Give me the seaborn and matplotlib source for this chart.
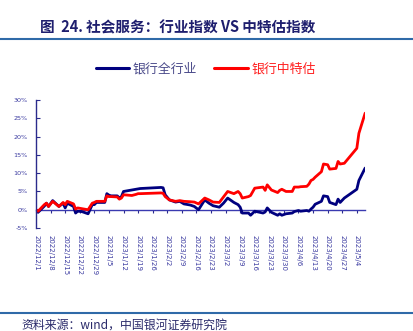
import matplotlib
matplotlib.use("Agg")
import matplotlib.pyplot as plt
import seaborn as sns
import pandas as pd
from matplotlib.lines import Line2D

dates = ["2022-12-01","2022-12-02","2022-12-05","2022-12-06","2022-12-07","2022-12-09",
         "2022-12-12","2022-12-14","2022-12-15","2022-12-16","2022-12-19","2022-12-20",
         "2022-12-21","2022-12-23","2022-12-26","2022-12-28","2022-12-29","2022-12-30",
         "2023-01-03","2023-01-04","2023-01-05","2023-01-06","2023-01-09","2023-01-10",
         "2023-01-11","2023-01-12","2023-01-16","2023-01-18","2023-01-19","2023-01-20",
         "2023-01-30","2023-01-31","2023-02-01","2023-02-03","2023-02-06","2023-02-08",
         "2023-02-10","2023-02-13","2023-02-15","2023-02-17","2023-02-20","2023-02-22",
         "2023-02-24","2023-02-27","2023-03-01","2023-03-03","2023-03-06","2023-03-08",
         "2023-03-09","2023-03-10","2023-03-13","2023-03-14","2023-03-16","2023-03-20",
         "2023-03-21","2023-03-22","2023-03-24","2023-03-27","2023-03-28","2023-03-29",
         "2023-03-31","2023-04-03","2023-04-04","2023-04-06","2023-04-07","2023-04-10",
         "2023-04-11","2023-04-12","2023-04-13","2023-04-14","2023-04-17","2023-04-18",
         "2023-04-20","2023-04-21","2023-04-24","2023-04-25","2023-04-26","2023-04-28",
         "2023-05-04","2023-05-05","2023-05-08"]

bank_all = [0.0,-0.7,1.0,1.8,0.9,2.5,
            0.9,1.8,0.5,1.8,0.9,-0.9,
            -0.4,-0.5,-1.1,1.4,1.4,2.0,
            2.0,4.4,4.0,3.8,3.8,3.2,
            3.6,5.0,5.4,5.6,5.7,5.8,
            6.1,6.0,4.1,2.7,2.1,2.3,
            1.6,1.3,0.9,0.0,2.7,1.8,
            1.1,0.7,1.8,3.2,2.0,1.4,
            0.7,-0.9,-0.9,-1.5,-0.4,-0.9,
            -0.6,0.5,-0.7,-1.5,-1.1,-1.5,
            -1.1,-0.9,-0.5,-0.2,-0.4,-0.2,
            -0.4,0.2,0.7,1.5,2.3,3.8,
            3.6,2.0,1.4,2.9,2.0,3.2,
            5.6,8.0,11.4]

bank_spec = [0.0,-0.4,1.4,1.8,0.9,2.3,
             0.9,2.0,1.4,2.3,1.6,0.2,
             0.5,0.3,0.0,1.8,2.0,2.3,
             2.3,3.8,3.6,3.6,3.5,2.9,
             3.2,4.1,3.9,4.2,4.4,4.4,
             4.6,4.5,3.6,2.7,2.3,2.5,
             2.3,2.2,2.1,1.6,3.2,2.7,
             2.1,2.0,3.5,5.0,4.4,5.0,
             4.4,3.2,3.6,3.9,5.9,6.2,
             5.3,6.8,5.4,4.7,5.3,5.6,
             5.0,5.0,6.2,6.2,6.3,6.4,
             7.0,8.0,8.3,8.9,10.4,12.5,
             12.3,11.1,11.3,13.2,12.5,12.7,
             16.8,20.9,26.4]

series_names = ["银行全行业", "银行中特估"]
colors = ["#00007F", "#FF0000"]

tick_dates = ["2022-12-01","2022-12-08","2022-12-15","2022-12-22","2022-12-29",
              "2023-01-05","2023-01-12","2023-01-19","2023-01-26","2023-02-02",
              "2023-02-09","2023-02-16","2023-02-23","2023-03-02","2023-03-09",
              "2023-03-16","2023-03-23","2023-03-30","2023-04-06","2023-04-13",
              "2023-04-20","2023-04-27","2023-05-04"]
tick_labels = ["2022/12/1","2022/12/8","2022/12/15","2022/12/22","2022/12/29",
               "2023/1/5","2023/1/12","2023/1/19","2023/1/26","2023/2/2",
               "2023/2/9","2023/2/16","2023/2/23","2023/3/2","2023/3/9",
               "2023/3/16","2023/3/23","2023/3/30","2023/4/6","2023/4/13",
               "2023/4/20","2023/4/27","2023/5/4"]
y_ticks = [-5, 0, 5, 10, 15, 20, 25, 30]

sns.set_theme(style="white")
plt.rcParams["font.family"] = ["Noto Sans CJK SC", "DejaVu Sans"]
plt.rcParams["axes.unicode_minus"] = False

df = pd.DataFrame({
    "date": pd.to_datetime(dates * 2),
    "value": bank_all + bank_spec,
    "series": [series_names[0]] * len(dates) + [series_names[1]] * len(dates),
})

fig = plt.figure(figsize=(4.14, 3.31), dpi=100)
ax = fig.add_axes([0.087, 0.311, 0.795, 0.387])

sns.lineplot(data=df, x="date", y="value", hue="series", palette=colors,
             hue_order=series_names, linewidth=2.0, ax=ax, legend=False)

axis_color = "#2B2B8C"
label_color = "#3A3AA0"

ax.set_xlim(pd.Timestamp(dates[0]), pd.Timestamp(dates[-1]))
ax.set_ylim(-5, 30)
ax.set_xlabel("")
ax.set_ylabel("")

ax.spines["top"].set_visible(False)
ax.spines["right"].set_visible(False)
ax.spines["left"].set_color(axis_color)
ax.spines["left"].set_linewidth(1.0)
ax.spines["bottom"].set_position(("data", 0))
ax.spines["bottom"].set_color("#3A3AB0")
ax.spines["bottom"].set_linewidth(1.0)
ax.spines["bottom"].set_zorder(1)

ax.set_yticks(y_ticks)
ax.set_yticklabels([f"{v}%" for v in y_ticks])
ax.tick_params(axis="y", direction="in", length=3, width=0.8, color=axis_color,
               labelsize=4.6, labelcolor=label_color, pad=6, left=True)

ax.set_xticks(pd.to_datetime(tick_dates))
ax.set_xticklabels(tick_labels, rotation=-90, ha="center", va="top")
ax.tick_params(axis="x", direction="out", length=2.5, width=0.8, color=axis_color,
               labelsize=5.0, labelcolor=label_color, pad=16, bottom=True)
for lbl in ax.get_xticklabels():
    lbl.set_family(["DejaVu Sans"])
for lbl in ax.get_yticklabels():
    lbl.set_family(["DejaVu Sans"])

handles = [Line2D([0], [0], color=c, lw=2.2) for c in colors]
leg = fig.legend(handles, series_names, loc="center", bbox_to_anchor=(0.497, 0.79),
                 ncol=2, frameon=False, fontsize=9.3, handlelength=2.6,
                 columnspacing=1.3, handletextpad=0.3)
leg.get_texts()[0].set_color("#4A4A8A")
leg.get_texts()[1].set_color("#FF2020")

fig.text(0.097, 0.918, "图  24. 社会服务：行业指数 VS 中特估指数", fontsize=10.5,
         fontweight="bold", color="#1E1E6E", ha="left", va="center")
fig.add_artist(Line2D([0, 1], [0.883, 0.883], transform=fig.transFigure,
                      color="#2F6AA8", lw=1.5))
fig.add_artist(Line2D([0, 1], [0.055, 0.055], transform=fig.transFigure,
                      color="#2F6AA8", lw=1.5))
fig.text(0.053, 0.018, "资料来源：wind，中国银河证券研究院", fontsize=8.6,
         style="italic", color="#2A2A6A", ha="left", va="center")

fig.savefig("out.png", dpi=100)
